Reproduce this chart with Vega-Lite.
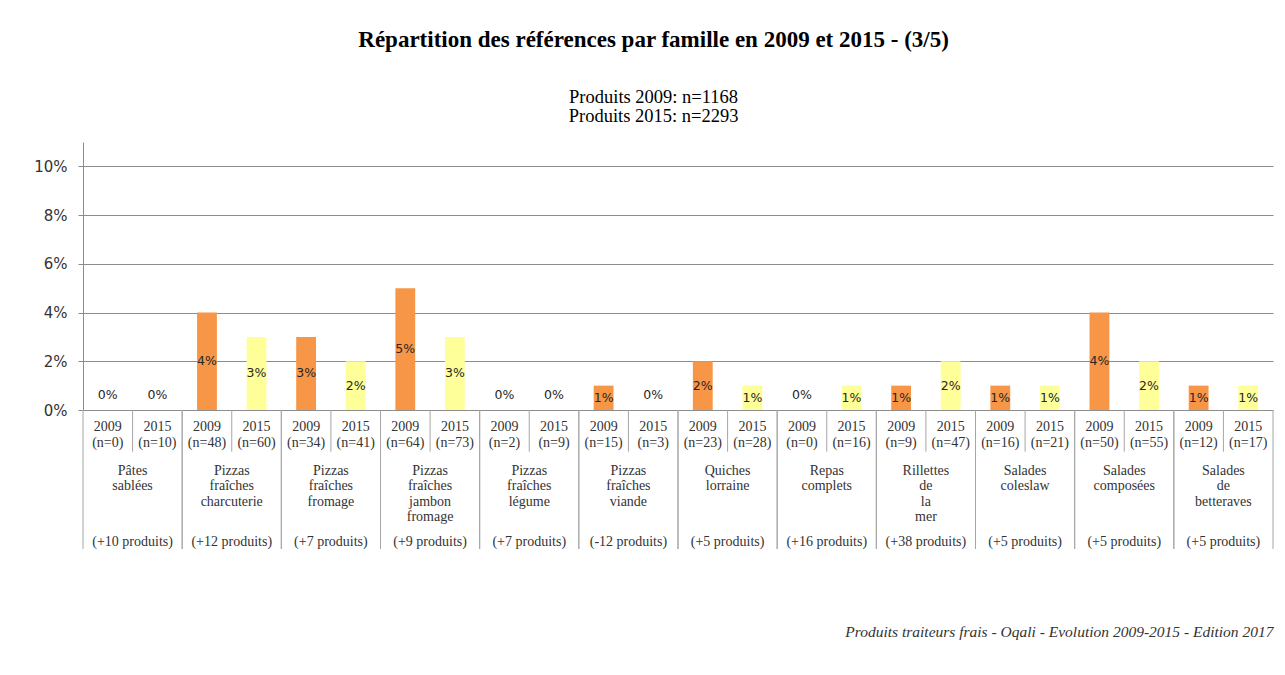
{
  "$schema": "https://vega.github.io/schema/vega-lite/v6.json",
  "background": "white",
  "padding": {"left": 33, "top": 28, "right": 5, "bottom": 5},
  "bounds": "flush",
  "title": {
    "text": "Répartition des références par famille en 2009 et 2015 - (3/5)",
    "subtitle": ["Produits 2009: n=1168", "Produits 2015: n=2293"],
    "anchor": "middle",
    "font": "Liberation Serif",
    "fontSize": 23,
    "fontWeight": "bold",
    "color": "#000000",
    "subtitleFont": "Liberation Serif",
    "subtitleFontSize": 18.5,
    "subtitleColor": "#000000",
    "subtitlePadding": 36,
    "subtitleLineHeight": 19,
    "offset": 17
  },
  "data": {
    "values": [
      {"categorie": "Pâtes sablées", "nom": "Pâtes\nsablées", "annee": "2009", "n": 0, "pct": 0.00, "evolution": "(+10 produits)"},
      {"categorie": "Pâtes sablées", "nom": "Pâtes\nsablées", "annee": "2015", "n": 10, "pct": 0.00, "evolution": "(+10 produits)"},
      {"categorie": "Pizzas fraîches charcuterie", "nom": "Pizzas\nfraîches\ncharcuterie", "annee": "2009", "n": 48, "pct": 0.04, "evolution": "(+12 produits)"},
      {"categorie": "Pizzas fraîches charcuterie", "nom": "Pizzas\nfraîches\ncharcuterie", "annee": "2015", "n": 60, "pct": 0.03, "evolution": "(+12 produits)"},
      {"categorie": "Pizzas fraîches fromage", "nom": "Pizzas\nfraîches\nfromage", "annee": "2009", "n": 34, "pct": 0.03, "evolution": "(+7 produits)"},
      {"categorie": "Pizzas fraîches fromage", "nom": "Pizzas\nfraîches\nfromage", "annee": "2015", "n": 41, "pct": 0.02, "evolution": "(+7 produits)"},
      {"categorie": "Pizzas fraîches jambon fromage", "nom": "Pizzas\nfraîches\njambon\nfromage", "annee": "2009", "n": 64, "pct": 0.05, "evolution": "(+9 produits)"},
      {"categorie": "Pizzas fraîches jambon fromage", "nom": "Pizzas\nfraîches\njambon\nfromage", "annee": "2015", "n": 73, "pct": 0.03, "evolution": "(+9 produits)"},
      {"categorie": "Pizzas fraîches légume", "nom": "Pizzas\nfraîches\nlégume", "annee": "2009", "n": 2, "pct": 0.00, "evolution": "(+7 produits)"},
      {"categorie": "Pizzas fraîches légume", "nom": "Pizzas\nfraîches\nlégume", "annee": "2015", "n": 9, "pct": 0.00, "evolution": "(+7 produits)"},
      {"categorie": "Pizzas fraîches viande", "nom": "Pizzas\nfraîches\nviande", "annee": "2009", "n": 15, "pct": 0.01, "evolution": "(-12 produits)"},
      {"categorie": "Pizzas fraîches viande", "nom": "Pizzas\nfraîches\nviande", "annee": "2015", "n": 3, "pct": 0.00, "evolution": "(-12 produits)"},
      {"categorie": "Quiches lorraine", "nom": "Quiches\nlorraine", "annee": "2009", "n": 23, "pct": 0.02, "evolution": "(+5 produits)"},
      {"categorie": "Quiches lorraine", "nom": "Quiches\nlorraine", "annee": "2015", "n": 28, "pct": 0.01, "evolution": "(+5 produits)"},
      {"categorie": "Repas complets", "nom": "Repas\ncomplets", "annee": "2009", "n": 0, "pct": 0.00, "evolution": "(+16 produits)"},
      {"categorie": "Repas complets", "nom": "Repas\ncomplets", "annee": "2015", "n": 16, "pct": 0.01, "evolution": "(+16 produits)"},
      {"categorie": "Rillettes de la mer", "nom": "Rillettes\nde\nla\nmer", "annee": "2009", "n": 9, "pct": 0.01, "evolution": "(+38 produits)"},
      {"categorie": "Rillettes de la mer", "nom": "Rillettes\nde\nla\nmer", "annee": "2015", "n": 47, "pct": 0.02, "evolution": "(+38 produits)"},
      {"categorie": "Salades coleslaw", "nom": "Salades\ncoleslaw", "annee": "2009", "n": 16, "pct": 0.01, "evolution": "(+5 produits)"},
      {"categorie": "Salades coleslaw", "nom": "Salades\ncoleslaw", "annee": "2015", "n": 21, "pct": 0.01, "evolution": "(+5 produits)"},
      {"categorie": "Salades composées", "nom": "Salades\ncomposées", "annee": "2009", "n": 50, "pct": 0.04, "evolution": "(+5 produits)"},
      {"categorie": "Salades composées", "nom": "Salades\ncomposées", "annee": "2015", "n": 55, "pct": 0.02, "evolution": "(+5 produits)"},
      {"categorie": "Salades de betteraves", "nom": "Salades\nde\nbetteraves", "annee": "2009", "n": 12, "pct": 0.01, "evolution": "(+5 produits)"},
      {"categorie": "Salades de betteraves", "nom": "Salades\nde\nbetteraves", "annee": "2015", "n": 17, "pct": 0.01, "evolution": "(+5 produits)"}
    ]
  },
  "spacing": 0,
  "vconcat": [
    {
      "width": 1190,
      "height": 268,
      "layer": [
        {
          "mark": {"type": "bar"},
          "encoding": {
            "x": {"field": "categorie", "type": "nominal", "sort": null, "scale": {"paddingInner": 0, "paddingOuter": 0}, "axis": null},
            "xOffset": {"field": "annee", "type": "nominal", "scale": {"paddingInner": 0.6, "paddingOuter": 0.3}},
            "y": {"field": "pct", "type": "quantitative", "scale": {"domain": [0, 0.11], "nice": false},
                  "axis": {"title": null, "values": [0, 0.02, 0.04, 0.06, 0.08, 0.1], "format": ".0%", "grid": true,
                           "gridColor": "#8c8c8c", "domainColor": "#8c8c8c", "tickColor": "#8c8c8c", "tickSize": 5,
                           "labelFont": "DejaVu Sans", "labelFontSize": 15, "labelColor": "#333333", "labelPadding": 11}},
            "color": {"field": "annee", "type": "nominal", "scale": {"domain": ["2009", "2015"], "range": ["#F79646", "#FFFF99"]}, "legend": null}
          }
        },
        {
          "transform": [{"calculate": "datum.pct == 0 ? 0.006 : datum.pct / 2", "as": "milieu"}],
          "mark": {"type": "text", "font": "DejaVu Sans", "fontSize": 12.5, "color": "#262626", "baseline": "middle"},
          "encoding": {
            "x": {"field": "categorie", "type": "nominal", "sort": null},
            "xOffset": {"field": "annee", "type": "nominal"},
            "y": {"field": "milieu", "type": "quantitative"},
            "text": {"field": "pct", "format": ".0%"}
          }
        }
      ]
    },
    {
      "width": 1190,
      "height": 139,
      "transform": [{"calculate": "'(n=' + datum.n + ')'", "as": "etiquette_n"}],
      "layer": [
        {
          "transform": [{"filter": "datum.annee == '2009'"}],
          "mark": {"type": "rule", "color": "#a6a6a6"},
          "encoding": {
            "x": {"field": "categorie", "type": "nominal", "sort": null, "bandPosition": 0, "scale": {"paddingInner": 0, "paddingOuter": 0},
                  "axis": {"labels": false, "ticks": false, "domain": false, "title": "Produits traiteurs frais - Oqali - Evolution 2009-2015 - Edition 2017",
                           "titleFont": "Liberation Serif", "titleFontStyle": "italic", "titleFontWeight": "normal", "titleFontSize": 15.5,
                           "titleColor": "#333333", "titleAnchor": "end", "titlePadding": 75}}
          }
        },
        {
          "transform": [{"filter": "datum.annee == '2015'"}],
          "mark": {"type": "rule", "color": "#a6a6a6"},
          "encoding": {
            "x": {"field": "categorie", "type": "nominal", "sort": null, "bandPosition": 1}
          }
        },
        {
          "transform": [{"filter": "datum.annee == '2009'"}],
          "mark": {"type": "rule", "color": "#a6a6a6"},
          "encoding": {
            "x": {"field": "categorie", "type": "nominal", "sort": null, "bandPosition": 0.5},
            "y": {"datum": 0, "type": "quantitative", "scale": {"domain": [0, 9], "reverse": true, "nice": false, "zero": false}, "axis": null},
            "y2": {"datum": 2.7}
          }
        },
        {
          "mark": {"type": "text", "font": "Liberation Serif", "fontSize": 14, "color": "#333333", "baseline": "middle"},
          "encoding": {
            "x": {"field": "categorie", "type": "nominal", "sort": null},
            "xOffset": {"field": "annee", "type": "nominal", "scale": {"paddingInner": 0.6, "paddingOuter": 0.3}},
            "y": {"datum": 1.1, "type": "quantitative"},
            "text": {"field": "annee"}
          }
        },
        {
          "mark": {"type": "text", "font": "Liberation Serif", "fontSize": 14, "color": "#333333", "baseline": "middle"},
          "encoding": {
            "x": {"field": "categorie", "type": "nominal", "sort": null},
            "xOffset": {"field": "annee", "type": "nominal"},
            "y": {"datum": 2.13, "type": "quantitative"},
            "text": {"field": "etiquette_n"}
          }
        },
        {
          "transform": [{"filter": "datum.annee == '2009'"}],
          "mark": {"type": "text", "font": "Liberation Serif", "fontSize": 14, "color": "#333333", "baseline": "top", "lineBreak": "\n", "lineHeight": 15.5},
          "encoding": {
            "x": {"field": "categorie", "type": "nominal", "sort": null, "bandPosition": 0.5},
            "y": {"datum": 3.47, "type": "quantitative"},
            "text": {"field": "nom"}
          }
        },
        {
          "transform": [{"filter": "datum.annee == '2009'"}],
          "mark": {"type": "text", "font": "Liberation Serif", "fontSize": 14, "color": "#333333", "baseline": "middle"},
          "encoding": {
            "x": {"field": "categorie", "type": "nominal", "sort": null, "bandPosition": 0.5},
            "y": {"datum": 8.52, "type": "quantitative"},
            "text": {"field": "evolution"}
          }
        }
      ]
    }
  ],
  "config": {"view": {"stroke": null}, "concat": {"spacing": 0}}
}
